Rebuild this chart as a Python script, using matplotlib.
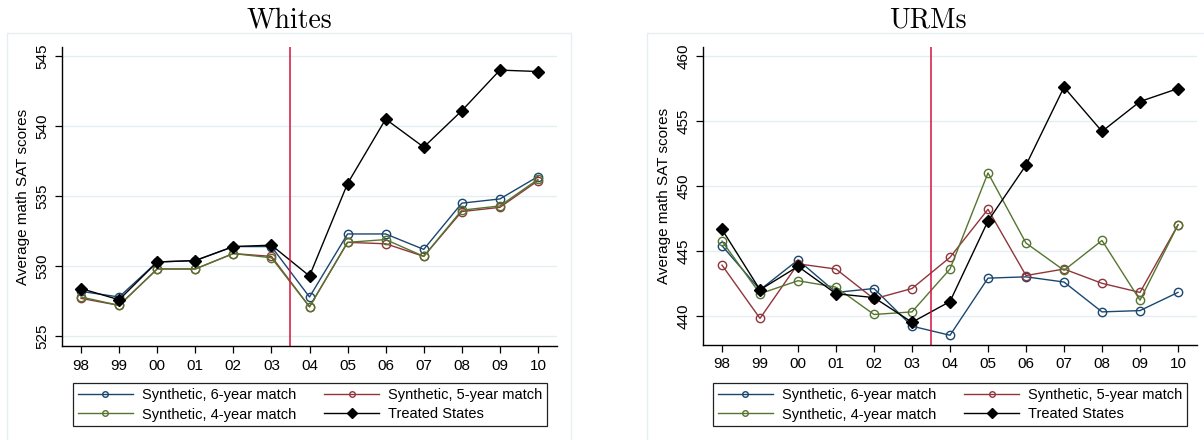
import numpy as np
import matplotlib
matplotlib.use("Agg")
import matplotlib.pyplot as plt
from matplotlib.lines import Line2D
from matplotlib.patches import Rectangle

plt.rcParams['font.family'] = ['Liberation Sans', 'DejaVu Sans']

# years on the x axis
years = ["98", "99", "00", "01", "02", "03", "04", "05", "06", "07", "08", "09", "10"]

# Whites panel
wh_6yr = [528.2, 527.8, 530.3, 530.4, 531.4, 531.4, 527.8, 532.3, 532.3, 531.2, 534.5, 534.8, 536.4]
wh_5yr = [527.7, 527.2, 529.8, 529.8, 530.9, 530.7, 527.1, 531.7, 531.6, 530.7, 533.9, 534.2, 536.1]
wh_4yr = [527.8, 527.2, 529.8, 529.8, 530.9, 530.6, 527.1, 531.7, 531.9, 530.7, 534.0, 534.3, 536.2]
wh_treated = [528.4, 527.6, 530.3, 530.4, 531.4, 531.5, 529.3, 535.9, 540.5, 538.5, 541.1, 544.0, 543.9]

# URMs panel
urm_6yr = [445.4, 442.0, 444.3, 441.8, 442.1, 439.2, 438.5, 442.9, 443.0, 442.6, 440.3, 440.4, 441.8]
urm_5yr = [443.9, 439.8, 444.0, 443.6, 441.3, 442.1, 444.5, 448.2, 443.1, 443.6, 442.5, 441.8, 447.0]
urm_4yr = [445.75, 441.7, 442.7, 442.2, 440.1, 440.3, 443.6, 451.0, 445.6, 443.5, 445.8, 441.2, 447.0]
urm_treated = [446.65, 442.0, 443.8, 441.7, 441.4, 439.5, 441.1, 447.3, 451.6, 457.6, 454.2, 456.5, 457.5]

labels = ["Synthetic, 6-year match", "Synthetic, 5-year match",
          "Synthetic, 4-year match", "Treated States"]
colors = ["#1a476f", "#90353b", "#55752f", "black"]

W, H = 1204, 440
fig = plt.figure(figsize=(W / 100, H / 100), dpi=100)

# faint graph-region boxes like Stata
for x0, x1 in [(7, 571), (647, 1215)]:
    fig.patches.append(Rectangle((x0 / W, -0.05), (x1 - x0) / W, 1 - 33 / H + 0.05,
                                 transform=fig.transFigure, fill=False,
                                 edgecolor="#e8eff0", lw=1.0))


def panel(ax, series, yticks, ylim, title, box_center, leg_center):
    x = np.arange(len(years))
    for vals, c in zip(series[:3], colors[:3]):
        ax.plot(x, vals, color=c, lw=1.0, marker="o", ms=6, mfc="none", mec=c, mew=1.0)
    ax.plot(x, series[3], color="black", lw=1.0, marker="D", ms=6.5, mfc="black", mec="black")
    ax.axvline(5.5, color="#d6123c", lw=1.1)
    ax.set_xlim(-0.5, 12.5)
    ax.set_ylim(*ylim)
    ax.set_xticks(x)
    ax.set_xticklabels(years, fontsize=11)
    ax.set_yticks(yticks)
    ax.set_yticklabels([str(t) for t in yticks], fontsize=11, rotation=90, va="center")
    ax.grid(axis="y", color="#e3eef0", lw=1.0)
    ax.set_axisbelow(True)
    for s in ["top", "right"]:
        ax.spines[s].set_visible(False)
    ax.spines["left"].set_linewidth(1.0)
    ax.spines["bottom"].set_linewidth(1.0)
    ax.tick_params(direction="out", length=5, width=0.9, pad=4)
    ax.set_ylabel("Average math SAT scores", fontsize=11, labelpad=4)
    fig.text(box_center / W, 1 - 28 / H, title, fontfamily="cmr10", fontsize=20,
             ha="center", va="baseline")

    handles = [
        Line2D([], [], color=colors[0], lw=1.0, marker="o", ms=4, mfc="none", mec=colors[0]),
        Line2D([], [], color=colors[2], lw=1.0, marker="o", ms=4, mfc="none", mec=colors[2]),
        Line2D([], [], color=colors[1], lw=1.0, marker="o", ms=4, mfc="none", mec=colors[1]),
        Line2D([], [], color="black", lw=1.0, marker="D", ms=5.5, mfc="black", mec="black"),
    ]
    lab = [labels[0], labels[2], labels[1], labels[3]]
    leg = ax.legend(handles, lab, ncol=2, loc="upper center",
                    bbox_to_anchor=(leg_center / W, 1 - 376 / H), bbox_transform=fig.transFigure,
                    fontsize=10.5, frameon=True, fancybox=False, framealpha=1,
                    edgecolor="#222222", handlelength=3.8, handletextpad=0.6,
                    columnspacing=1.9, borderpad=0.3, labelspacing=0.4)
    leg.get_frame().set_linewidth(0.9)


ax1 = fig.add_axes([62 / W, 1 - 346 / H, 495 / W, 299 / H])
panel(ax1, [wh_6yr, wh_5yr, wh_4yr, wh_treated], [525, 530, 535, 540, 545],
      (524.3, 545.65), "Whites", 289, 310)

ax2 = fig.add_axes([703 / W, 1 - 345 / H, 494 / W, 298 / H])
panel(ax2, [urm_6yr, urm_5yr, urm_4yr, urm_treated], [440, 445, 450, 455, 460],
      (437.75, 460.7), "URMs", 928, 950)

fig.savefig("out.png", dpi=100)
